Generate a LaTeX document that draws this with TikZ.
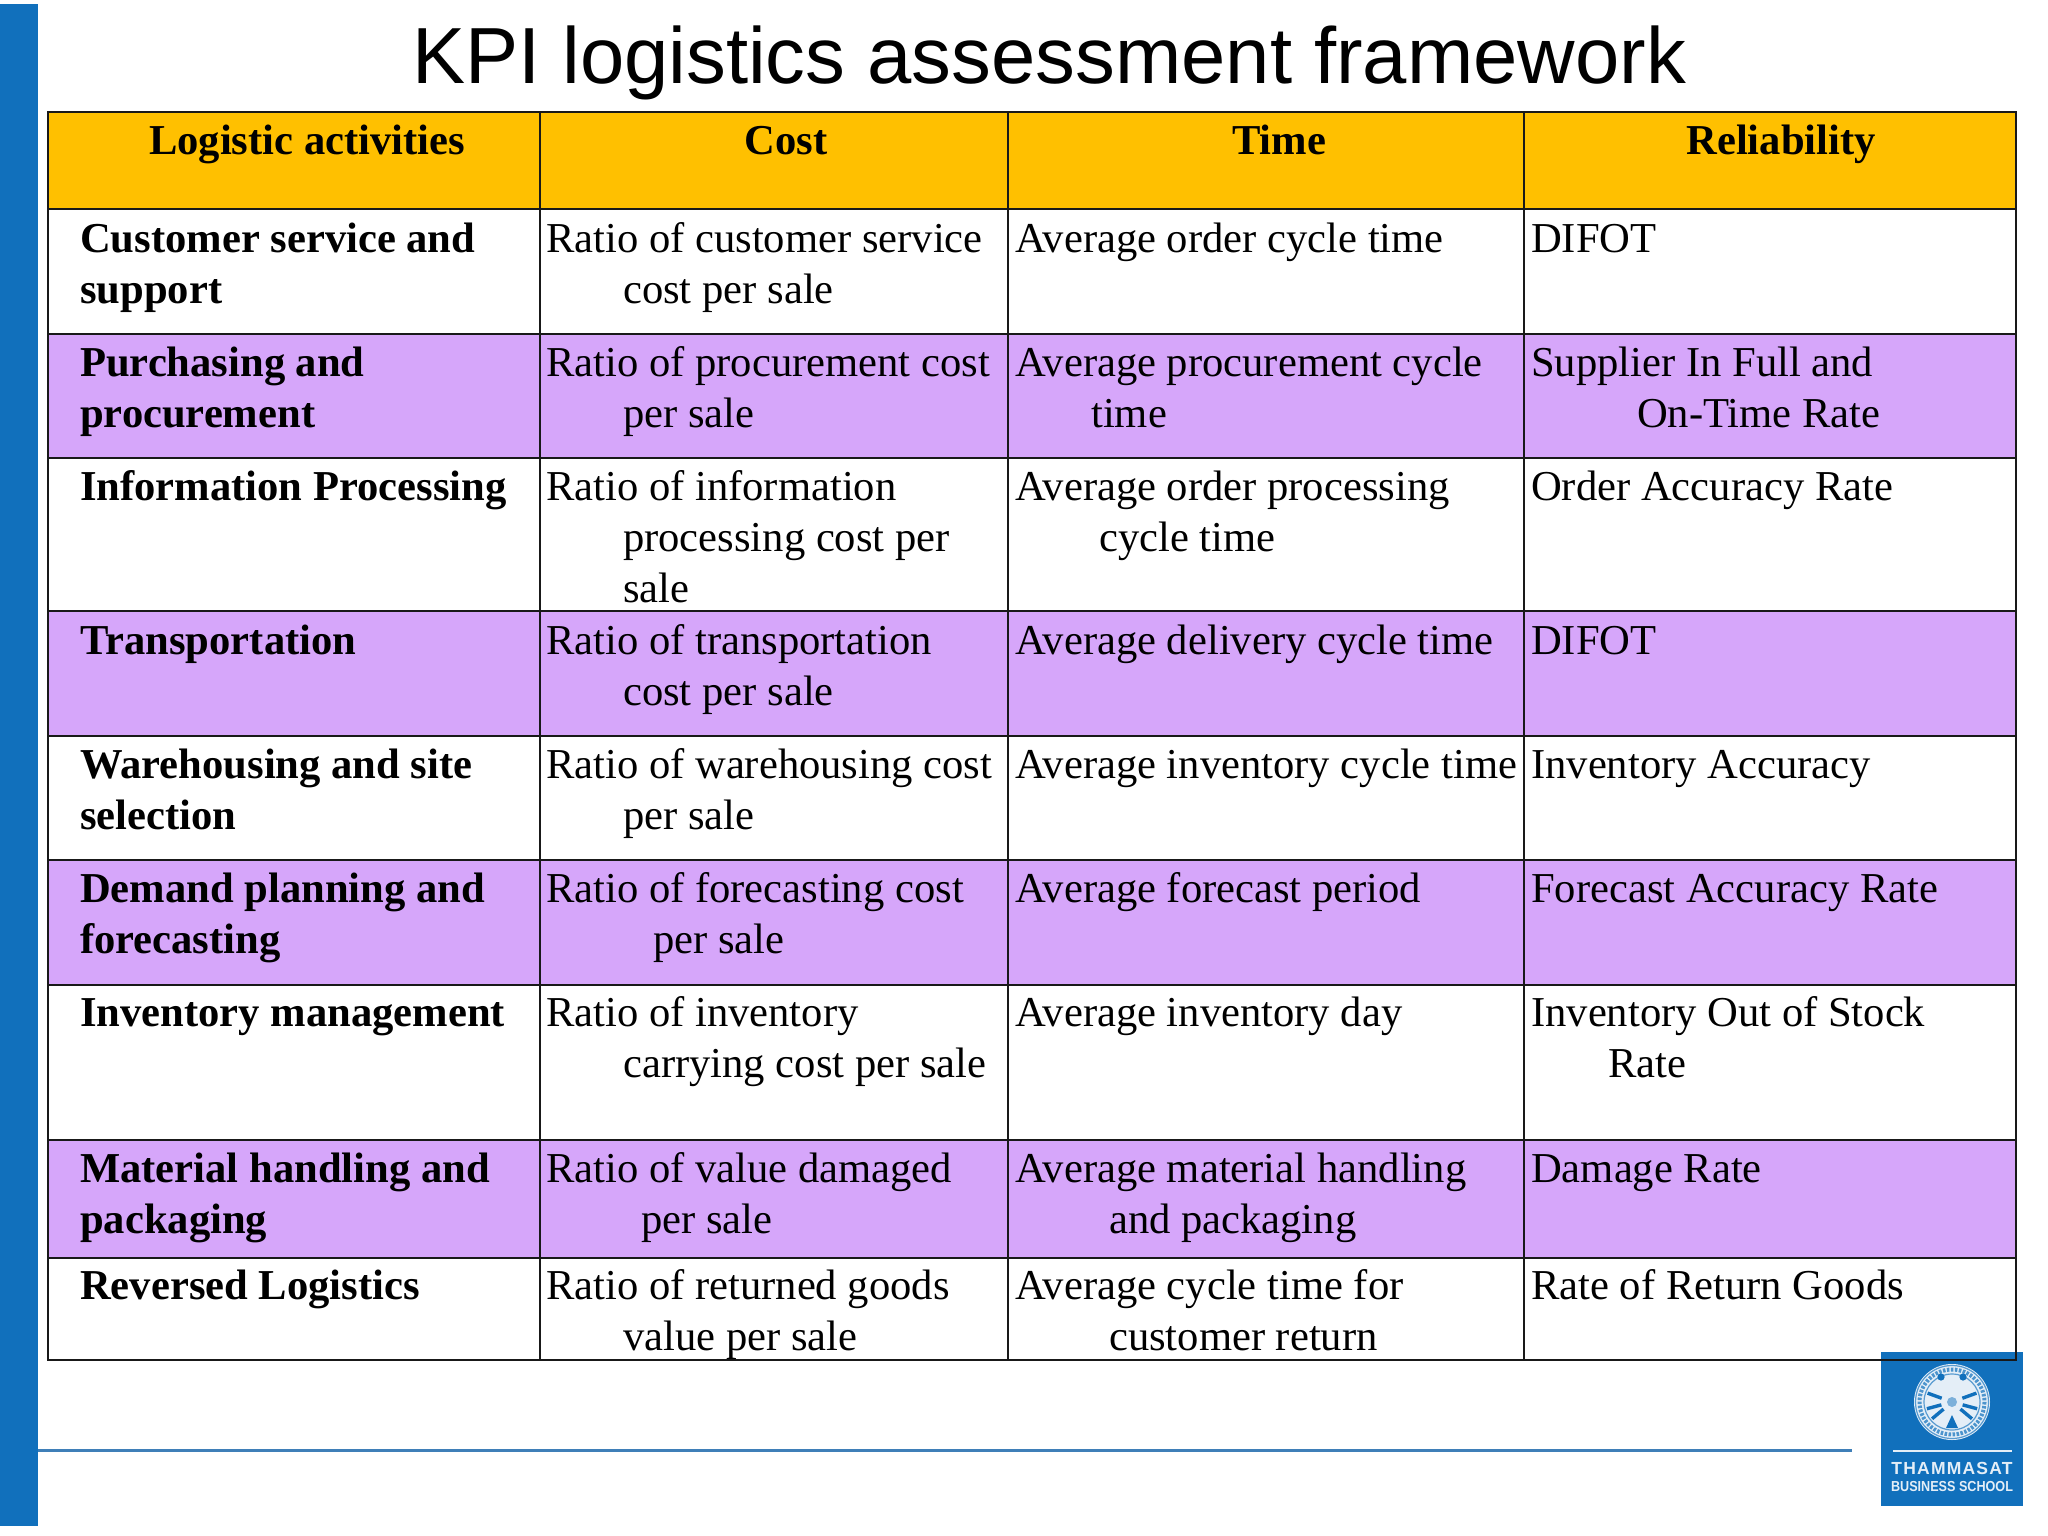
\documentclass[tikz,border=0pt]{standalone}
\usepackage{fontspec}
\setmainfont{Liberation Serif}
\newfontfamily\sansf{Liberation Sans}
\definecolor{barblue}{HTML}{1170BC}
\definecolor{rulebl}{HTML}{3F7FB8}
\definecolor{headgold}{HTML}{FFC000}
\definecolor{rowpurple}{HTML}{D6A6FA}
\definecolor{sealw}{HTML}{E4EEF7}
\newcommand{\ind}[1]{\hspace*{#1pt}}
\tikzset{
  x=1pt,y=-1pt,
  cell/.style={anchor=north west,inner sep=0pt,align=left,yshift=-1.4pt,font=\fontsize{42.6}{51}\selectfont,text=black},
  act/.style={cell,font=\fontsize{42.6}{51}\selectfont\bfseries},
  head/.style={anchor=base,inner sep=0pt,font=\fontsize{42.6}{51}\selectfont\bfseries,text=black},
  grid/.style={line width=2.8pt,draw=black!90},
  ray/.style={draw=barblue,line width=3.4pt},
}
\begin{document}
\begin{tikzpicture}
\useasboundingbox (0,0) rectangle (2048,1536);
\fill[white] (0,0) rectangle (2048,1536);
\fill[barblue] (0,4) rectangle (38,1526);
\draw[rulebl,line width=3pt] (38,1450) -- (1852,1450);
% title
\node[anchor=base,inner sep=0pt,font=\sansf\fontsize{79.6}{90}\selectfont] (title) at (1049,84) {KPI logistics assessment framework};
% fills
\fill[headgold] (48,112) rectangle (2016,209);
\foreach \a/\b in {334/458,611/736,860/985,1140/1258}{\fill[rowpurple] (48,\a) rectangle (2016,\b);}
% grid
\draw[grid] (48,112) rectangle (2016,1360);
\foreach \y in {209,334,458,611,736,860,985,1140,1258}{\draw[grid] (48,\y) -- (2016,\y);}
\foreach \x in {540,1008,1524}{\draw[grid] (\x,112) -- (\x,1360);}
% header
\node[head] (h1) at (307,154) {Logistic activities};
\node[head] (h2) at (786,154) {Cost};
\node[head] (h3) at (1279,154) {Time};
\node[head] (h4) at (1781,154) {Reliability};
% row 1
\node[act]  (a1) at (80,215.3)  {\strut Customer service and\\support};
\node[cell] (b1) at (546,215.3) {\strut Ratio of customer service\\\ind{77}cost per sale};
\node[cell] (c1) at (1015,215.3) {\strut Average order cycle time};
\node[cell] (d1) at (1531,215.3) {\strut DIFOT};
% row 2
\node[act]  (a2) at (80,339.3)  {\strut Purchasing and\\procurement};
\node[cell] (b2) at (546,339.3) {\strut Ratio of procurement cost\\\ind{77}per sale};
\node[cell] (c2) at (1015,339.3) {\strut Average procurement cycle\\\ind{76}time};
\node[cell] (d2) at (1531,339.3) {\strut Supplier In Full and\\\ind{106}On-Time Rate};
% row 3
\node[act]  (a3) at (80,463.3)  {\strut Information Processing};
\node[cell] (b3) at (546,463.3) {\strut Ratio of information\\\ind{77}processing cost per\\\ind{77}sale};
\node[cell] (c3) at (1015,463.3) {\strut Average order processing\\\ind{84}cycle time};
\node[cell] (d3) at (1531,463.3) {\strut Order Accuracy Rate};
% row 4
\node[act]  (a4) at (80,617.3)  {\strut Transportation};
\node[cell] (b4) at (546,617.3) {\strut Ratio of transportation\\\ind{77}cost per sale};
\node[cell] (c4) at (1015,617.3) {\strut Average delivery cycle time};
\node[cell] (d4) at (1531,617.3) {\strut DIFOT};
% row 5
\node[act]  (a5) at (80,741.3)  {\strut Warehousing and site\\selection};
\node[cell] (b5) at (546,741.3) {\strut Ratio of warehousing cost\\\ind{77}per sale};
\node[cell] (c5) at (1015,741.3) {\strut Average inventory cycle time};
\node[cell] (d5) at (1531,741.3) {\strut Inventory Accuracy};
% row 6
\node[act]  (a6) at (80,865.3)  {\strut Demand planning and\\forecasting};
\node[cell] (b6) at (546,865.3) {\strut Ratio of forecasting cost\\\ind{107}per sale};
\node[cell] (c6) at (1015,865.3) {\strut Average forecast period};
\node[cell] (d6) at (1531,865.3) {\strut Forecast Accuracy Rate};
% row 7
\node[act]  (a7) at (80,989.3)  {\strut Inventory management};
\node[cell] (b7) at (546,989.3) {\strut Ratio of inventory\\\ind{77}carrying cost per sale};
\node[cell] (c7) at (1015,989.3) {\strut Average inventory day};
\node[cell] (d7) at (1531,989.3) {\strut Inventory Out of Stock\\\ind{77}Rate};
% row 8
\node[act]  (a8) at (80,1145.3)  {\strut Material handling and\\packaging};
\node[cell] (b8) at (546,1145.3) {\strut Ratio of value damaged\\\ind{95}per sale};
\node[cell] (c8) at (1015,1145.3) {\strut Average material handling\\\ind{94}and packaging};
\node[cell] (d8) at (1531,1145.3) {\strut Damage Rate};
% row 9
\node[act]  (a9) at (80,1262.3)  {\strut Reversed Logistics};
\node[cell] (b9) at (546,1262.3) {\strut Ratio of returned goods\\\ind{77}value per sale};
\node[cell] (c9) at (1015,1262.3) {\strut Average cycle time for\\\ind{94}customer return};
\node[cell] (d9) at (1531,1262.3) {\strut Rate of Return Goods};
% logo
\fill[barblue] (1881,1352) rectangle (2023,1506);
\draw[grid] (1881,1360) -- (2016,1360) -- (2016,1352);
\fill[sealw] (1952,1402) circle (38);
\draw[barblue!70,line width=1.2pt] (1952,1402) circle (36.5);
\draw[barblue!75,line width=4pt,dash pattern=on 2.5pt off 1.5pt] (1952,1402) circle (32.5);
\draw[barblue!70,line width=1.2pt] (1952,1402) circle (28);
\foreach \t in {-160,-20,15,165,40,140}{\draw[ray] (1952,1402) ++(\t:11) -- ++(\t:15);}
\fill[barblue] (1941,1377) circle (3.6) (1963,1377) circle (3.6) (1952,1415) -- (1946,1428) -- (1958,1428) -- cycle;
\fill[barblue!55] (1952,1402) circle (5);
\draw[sealw,line width=1.2pt] (1893,1451) -- (2012,1451);
\node[anchor=base,inner sep=0pt,text=sealw,font=\sansf\bfseries\fontsize{17.5}{20}\selectfont\addfontfeature{LetterSpace=7}] (logo1) at (1952,1474) {THAMMASAT};
\node[anchor=base,inner sep=0pt,text=sealw,font=\sansf\bfseries\fontsize{14.5}{18}\selectfont,xscale=0.87] (logo2) at (1952,1491) {BUSINESS SCHOOL};
\end{tikzpicture}
\end{document}
